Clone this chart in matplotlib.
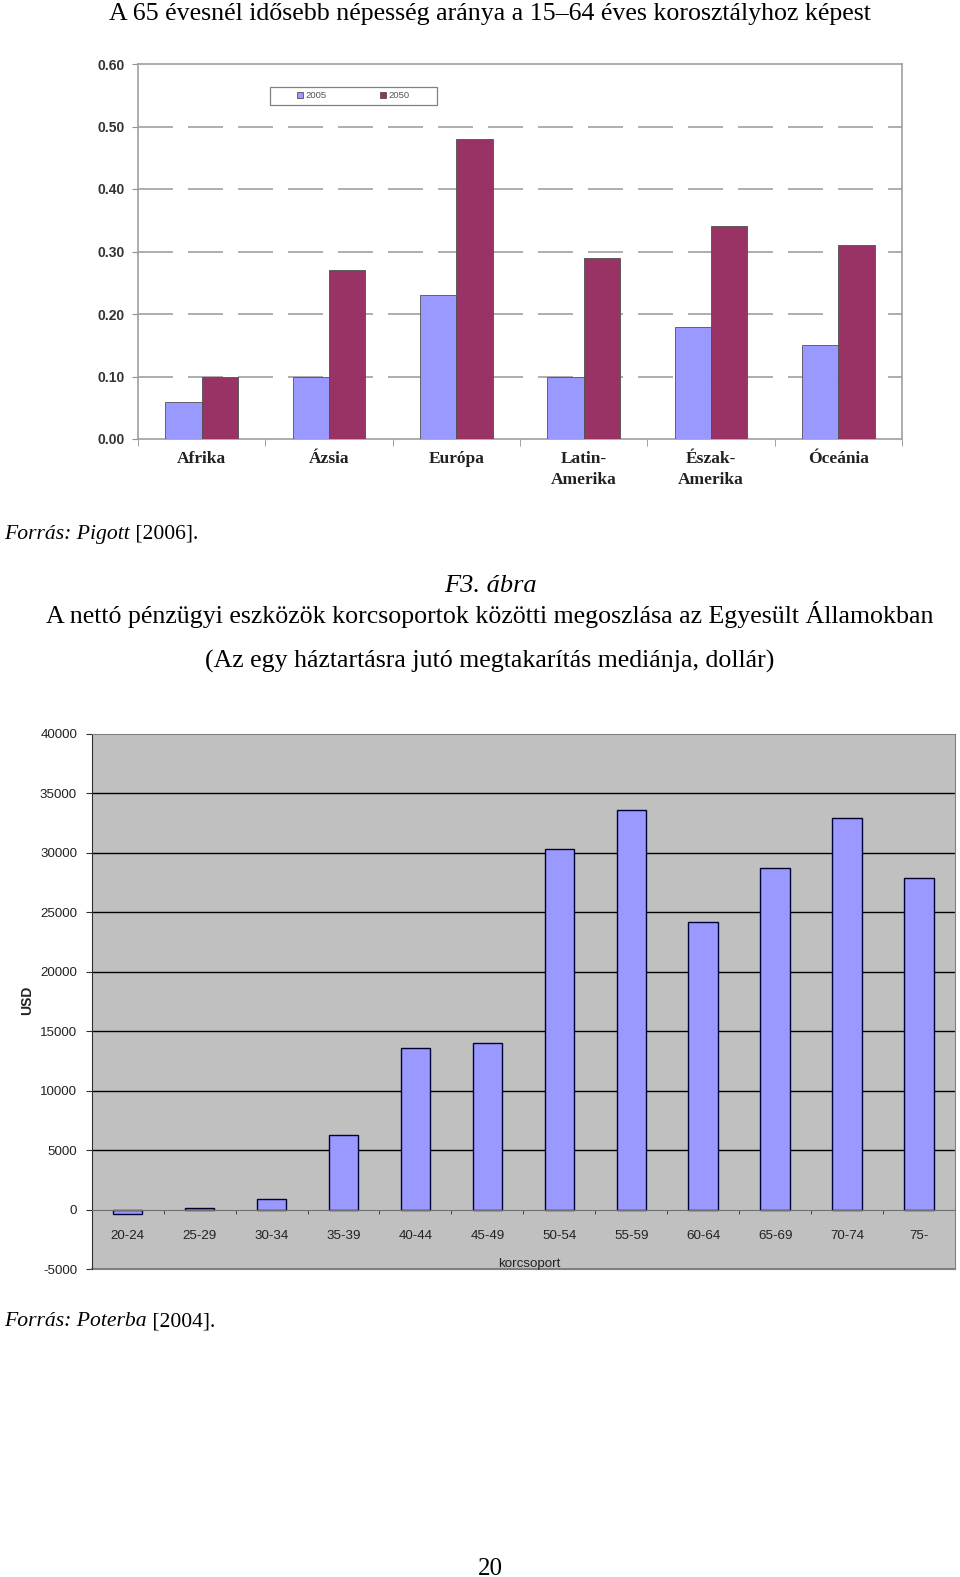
import matplotlib
matplotlib.use('Agg')
import matplotlib.pyplot as plt
from matplotlib.patches import Rectangle
import numpy as np

# chart 1 data
regions = ['Afrika', 'Ázsia', 'Európa', 'Latin-\nAmerika', 'Észak-\nAmerika', 'Óceánia']
ratio_2005 = [0.06, 0.10, 0.23, 0.10, 0.18, 0.15]
ratio_2050 = [0.10, 0.27, 0.48, 0.29, 0.34, 0.31]
ratio_ticks = [0.0, 0.1, 0.2, 0.3, 0.4, 0.5, 0.6]

# chart 2 data
age_groups = ['20-24', '25-29', '30-34', '35-39', '40-44', '45-49',
              '50-54', '55-59', '60-64', '65-69', '70-74', '75-']
savings = [-400, 100, 900, 6300, 13600, 14000, 30300, 33600, 24200, 28700, 32900, 27900]
usd_ticks = [-5000, 0, 5000, 10000, 15000, 20000, 25000, 30000, 35000, 40000]

W, H = 960, 1577
fig = plt.figure(figsize=(W / 100, H / 100), dpi=100)
fig.patch.set_facecolor('white')

serif = 'Liberation Serif'
sans = 'Liberation Sans'


def fx(px):
    return px / W


def fy(py):
    return 1 - py / H


# ---------- chart 1 ----------
ax1 = fig.add_axes([fx(138), fy(439), fx(902) - fx(138), (439 - 64) / H])
x = np.arange(len(regions))
w = 1 / 3.5
ax1.bar(x - w / 2, ratio_2005, w, color='#9999FF', edgecolor='#505050', linewidth=0.6, label='2005', zorder=3)
ax1.bar(x + w / 2, ratio_2050, w, color='#993366', edgecolor='#505050', linewidth=0.6, label='2050', zorder=3)
ax1.set_xlim(-0.5, len(regions) - 0.5)
ax1.set_ylim(0, 0.6)
ax1.set_yticks(ratio_ticks)
ax1.set_yticklabels(['%.2f' % t for t in ratio_ticks], fontfamily=sans, fontweight='bold',
                    fontsize=10, color='#333333')
for t in ratio_ticks[1:-1]:
    ax1.axhline(t, color='#a0a0a0', linewidth=1.2, dashes=(21, 9), zorder=1)
ax1.set_xticks(x)
ax1.set_xticklabels(regions, fontfamily=serif, fontweight='bold', fontsize=12.5,
                    color='#222222', linespacing=1.4)
ax1.set_xticks(np.arange(-0.5, len(regions)), minor=True)
ax1.tick_params(axis='x', which='major', length=0, pad=8.5)
ax1.tick_params(axis='x', which='minor', length=5, color='#909090', direction='out')
ax1.tick_params(axis='y', length=4.3, color='#909090', pad=5.5)
for s in ax1.spines.values():
    s.set_color('#a0a0a0')
    s.set_linewidth(1.2)

# legend box drawn separately so its padding can be wider than tall
lx0, lx1 = (270 - 138) / 764, (437 - 138) / 764
ly0, ly1 = (439 - 105) / 375, (439 - 87) / 375
ax1.add_patch(Rectangle((lx0, ly0), lx1 - lx0, ly1 - ly0, transform=ax1.transAxes,
                        facecolor='white', edgecolor='#808080', linewidth=0.9, zorder=5))
leg = ax1.legend(loc='center', bbox_to_anchor=((lx0 + lx1) / 2, (ly0 + ly1) / 2),
                 ncol=2, frameon=False, handlelength=0.65, handleheight=0.65,
                 handletextpad=0.3, columnspacing=5.6, borderpad=0,
                 prop={'family': sans, 'size': 6.8})
leg.set_zorder(6)
for txt in leg.get_texts():
    txt.set_color('#555555')

# ---------- chart 2 ----------
ax2 = fig.add_axes([fx(91.7), fy(1269), fx(955) - fx(91.7), (1269 - 734) / H])
ax2.set_facecolor('#C0C0C0')
xs = np.arange(len(age_groups))
ax2.bar(xs, savings, 0.41, color='#9999FF', edgecolor='#000033', linewidth=1.0, zorder=3)
ax2.set_xlim(-0.5, len(age_groups) - 0.5)
ax2.set_ylim(-5000, 40000)
ax2.set_yticks(usd_ticks)
ax2.set_yticklabels([str(t) for t in usd_ticks], fontfamily=sans, fontsize=9.6, color='#222222')
for t in usd_ticks[2:-1]:
    ax2.axhline(t, color='#000000', linewidth=1.0, zorder=1)
ax2.spines['bottom'].set_position(('data', 0))
ax2.spines['bottom'].set_color('#707070')
ax2.spines['bottom'].set_zorder(4)
ax2.spines['left'].set_color('#303030')
ax2.spines['top'].set_color('#808080')
ax2.spines['right'].set_color('#808080')
ax2.axhline(-5000, color='#808080', linewidth=1.5, clip_on=False)
ax2.set_xticks(xs)
ax2.set_xticklabels(age_groups, fontfamily=sans, fontsize=9.6, color='#222222')
ax2.set_xticks(np.arange(-0.5, len(age_groups)), minor=True)
ax2.tick_params(axis='x', which='major', length=0, pad=14.5)
ax2.tick_params(axis='x', which='minor', length=3, color='#303030', direction='out')
ax2.tick_params(axis='y', length=4, color='#303030', pad=6.5)
ax2.text(0.507, (1269 - 1263.5) / 535, 'korcsoport', transform=ax2.transAxes, ha='center', va='center',
         fontfamily=sans, fontsize=9.6, color='#222222')
fig.text(fx(27), fy(1000), 'USD', rotation=90, ha='center', va='center', fontfamily=sans,
         fontweight='bold', fontsize=10, color='#222222')

# ---------- page text ----------
fig.text(fx(490), fy(14), 'A 65 évesnél idősebb népesség aránya a 15–64 éves korosztályhoz képest',
         ha='center', va='center', fontfamily=serif, fontsize=18.6, color='#000000')
fig.text(fx(490), fy(586), 'F3. ábra', ha='center', va='center', fontfamily=serif,
         fontstyle='italic', fontsize=19, color='#000000')
fig.text(fx(490), fy(615), 'A nettó pénzügyi eszközök korcsoportok közötti megoszlása az Egyesült Államokban',
         ha='center', va='center', fontfamily=serif, fontsize=18.6, color='#000000')
fig.text(fx(490), fy(661), '(Az egy háztartásra jutó megtakarítás mediánja, dollár)',
         ha='center', va='center', fontfamily=serif, fontsize=18.6, color='#000000')
fig.text(fx(490), fy(1569), '20', ha='center', va='center', fontfamily=serif, fontsize=18)

renderer = fig.canvas.get_renderer()


def source_line(py, ital, rest):
    t1 = fig.text(fx(4), fy(py), ital, ha='left', va='baseline', fontfamily=serif,
                  fontstyle='italic', fontsize=15.6)
    bb = t1.get_window_extent(renderer)
    fig.text(bb.x1 / W, fy(py), rest, ha='left', va='baseline', fontfamily=serif, fontsize=15.6)


source_line(539, 'Forrás: Pigott', ' [2006].')
source_line(1326, 'Forrás: Poterba', ' [2004].')

fig.savefig('out.png', dpi=100, facecolor='white')
